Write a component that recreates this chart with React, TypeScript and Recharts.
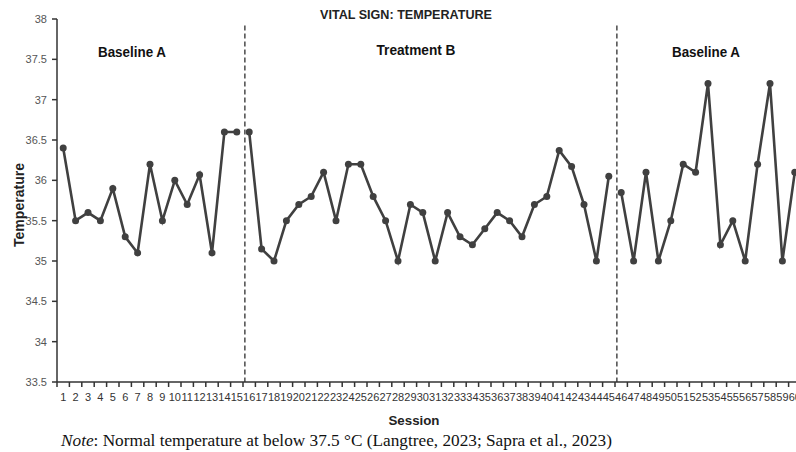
import React from "react";
import { LineChart, Line, XAxis, YAxis, ReferenceLine } from "recharts";

const sessions: number[] = Array.from({ length: 60 }, (_, i) => i + 1);

const baselineA1: number[] = [36.4, 35.5, 35.6, 35.5, 35.9, 35.3, 35.1, 36.2, 35.5, 36.0, 35.7, 36.07, 35.1, 36.6, 36.6];
const treatmentB: number[] = [
  36.6, 35.15, 35.0, 35.5, 35.7, 35.8, 36.1, 35.5, 36.2, 36.2,
  35.8, 35.5, 35.0, 35.7, 35.6, 35.0, 35.6, 35.3, 35.2, 35.4,
  35.6, 35.5, 35.3, 35.7, 35.8, 36.37, 36.17, 35.7, 35.0, 36.05,
];
const baselineA2: number[] = [35.85, 35.0, 36.1, 35.0, 35.5, 36.2, 36.1, 37.2, 35.2, 35.5, 35.0, 36.2, 37.2, 35.0, 36.1];

const yTicks: number[] = [33.5, 34, 34.5, 35, 35.5, 36, 36.5, 37, 37.5, 38];
const phaseBoundaries: number[] = [15.5, 45.5];

const data = sessions.map((s, i) => ({
  session: s,
  a1: i < 15 ? baselineA1[i] : null,
  b: i >= 15 && i < 45 ? treatmentB[i - 15] : null,
  a2: i >= 45 ? baselineA2[i - 45] : null,
}));

const W = 800;
const H = 444;
const margin = { top: 11, right: 7, bottom: 40, left: 0 };
const yAxisWidth = 49;
const plotW = W - margin.left - margin.right - yAxisWidth;
const bandW = plotW / sessions.length;

const LINE = "#404040";

const XTick = (props: any) => {
  const { x, y, payload, index } = props;
  const isLast = index === sessions.length - 1;
  return (
    <g>
      <line x1={x - bandW / 2} x2={x - bandW / 2} y1={y} y2={y + 5} stroke="#333" strokeWidth={1.5} />
      {isLast && <line x1={x + bandW / 2} x2={x + bandW / 2} y1={y} y2={y + 5} stroke="#333" strokeWidth={1.5} />}
      <text x={x} y={y + 19} textAnchor="middle" fontSize={11} fill="#333" fontFamily="Liberation Sans, Arial, sans-serif">
        {payload.value}
      </text>
    </g>
  );
};

const YTick = (props: any) => {
  const { x, y, payload } = props;
  return (
    <text x={x} y={y + 4} textAnchor="end" fontSize={11} fill="#555" fontFamily="Liberation Sans, Arial, sans-serif">
      {payload.value}
    </text>
  );
};

const dotStyle = { r: 3.5, fill: LINE, stroke: LINE, strokeWidth: 0 };

export default function App() {
  return (
    <>
      <div style={{ height: 436 }} />
      <div style={{ position: "absolute", left: 0, top: 0, width: 796, height: 452, overflow: "hidden" }}>
        <div style={{ position: "absolute", left: 8, top: 8, width: W, height: H }}>
          <LineChart width={W} height={H} data={data} margin={margin}>
            <XAxis
              dataKey="session"
              type="number"
              domain={[0.5, 60.5]}
              ticks={sessions}
              interval={0}
              tickLine={false}
              tickSize={0}
              tickMargin={0}
              height={30}
              axisLine={{ stroke: "#333", strokeWidth: 1.5 }}
              tick={<XTick />}
            />
            <YAxis
              type="number"
              domain={[33.5, 38]}
              ticks={yTicks}
              interval={0}
              width={yAxisWidth}
              tickSize={5}
              tickMargin={5}
              tickLine={{ stroke: "#333", strokeWidth: 1.5 }}
              axisLine={{ stroke: "#333", strokeWidth: 1.5 }}
              tick={<YTick />}
            />
            {phaseBoundaries.map((b) => (
              <ReferenceLine
                key={b}
                segment={[{ x: b + 0.15, y: 37.92 }, { x: b + 0.15, y: 33.5 }]}
                stroke="#555"
                strokeWidth={1.6}
                strokeDasharray="5 3"
              />
            ))}
            <Line dataKey="a1" stroke={LINE} strokeWidth={2.6} dot={dotStyle} isAnimationActive={false} connectNulls={false} />
            <Line dataKey="b" stroke={LINE} strokeWidth={2.6} dot={dotStyle} isAnimationActive={false} connectNulls={false} />
            <Line dataKey="a2" stroke={LINE} strokeWidth={2.6} dot={dotStyle} isAnimationActive={false} connectNulls={false} />
          </LineChart>
          <svg width={W} height={H} style={{ position: "absolute", left: 0, top: 0, pointerEvents: "none" }}>
            <text x={398} y={11} textAnchor="middle" fontSize={13} fontWeight="bold" fill="#222"
              fontFamily="Liberation Sans Narrow, Liberation Sans, Arial, sans-serif" textLength={172} lengthAdjust="spacingAndGlyphs">
              VITAL SIGN: TEMPERATURE
            </text>
            <text x={124} y={49} textAnchor="middle" fontSize={14} fontWeight="bold" fill="#111"
              fontFamily="Liberation Sans Narrow, Liberation Sans, Arial, sans-serif" textLength={68} lengthAdjust="spacingAndGlyphs">
              Baseline A
            </text>
            <text x={408} y={47} textAnchor="middle" fontSize={14} fontWeight="bold" fill="#111"
              fontFamily="Liberation Sans Narrow, Liberation Sans, Arial, sans-serif" textLength={79} lengthAdjust="spacingAndGlyphs">
              Treatment B
            </text>
            <text x={698} y={49} textAnchor="middle" fontSize={14} fontWeight="bold" fill="#111"
              fontFamily="Liberation Sans Narrow, Liberation Sans, Arial, sans-serif" textLength={68} lengthAdjust="spacingAndGlyphs">
              Baseline A
            </text>
            <text x={11} y={197} transform="rotate(-90 11 197)" textAnchor="middle" dominantBaseline="central" fontSize={14} fontWeight="bold" fill="#222"
              fontFamily="Liberation Sans, Arial, sans-serif" textLength={84} lengthAdjust="spacingAndGlyphs">
              Temperature
            </text>
            <text x={406} y={417} textAnchor="middle" fontSize={13.5} fontWeight="bold" fill="#222"
              fontFamily="Liberation Sans, Arial, sans-serif" textLength={51} lengthAdjust="spacingAndGlyphs">
              Session
            </text>
            <text x={53} y={438} fontSize={17} fill="#111" fontFamily="Liberation Serif, Times New Roman, serif"
              textLength={551} lengthAdjust="spacingAndGlyphs">
              <tspan fontStyle="italic">Note</tspan>: Normal temperature at below 37.5 °C (Langtree, 2023; Sapra et al., 2023)
            </text>
          </svg>
        </div>
      </div>
    </>
  );
}
